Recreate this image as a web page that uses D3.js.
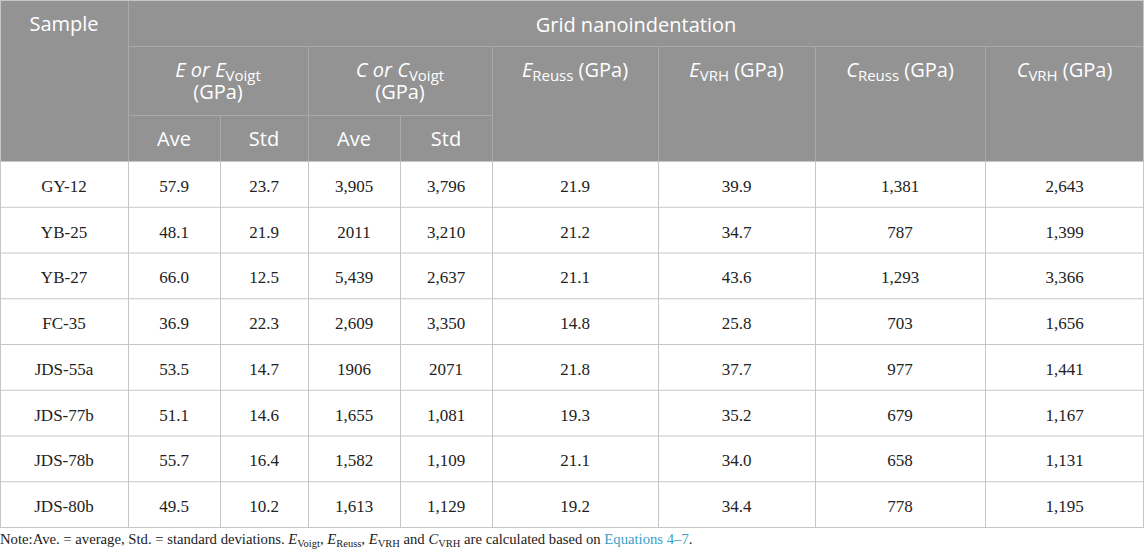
<!DOCTYPE html>
<html>
<head>
<meta charset="utf-8">
<script src="https://cdn.jsdelivr.net/npm/d3@7"></script>
<style>
  html, body { margin: 0; padding: 0; background: #fff; }
  svg { display: block; }
</style>
</head>
<body>
<div id="chart"></div>
<script>
const width = 1145;
const height = 556;

// table data
const samples = ["GY-12", "YB-25", "YB-27", "FC-35", "JDS-55a", "JDS-77b", "JDS-78b", "JDS-80b"];
const eAve   = ["57.9", "48.1", "66.0", "36.9", "53.5", "51.1", "55.7", "49.5"];
const eStd   = ["23.7", "21.9", "12.5", "22.3", "14.7", "14.6", "16.4", "10.2"];
const cAve   = ["3,905", "2011", "5,439", "2,609", "1906", "1,655", "1,582", "1,613"];
const cStd   = ["3,796", "3,210", "2,637", "3,350", "2071", "1,081", "1,109", "1,129"];
const eReuss = ["21.9", "21.2", "21.1", "14.8", "21.8", "19.3", "21.1", "19.2"];
const eVRH   = ["39.9", "34.7", "43.6", "25.8", "37.7", "35.2", "34.0", "34.4"];
const cReuss = ["1,381", "787", "1,293", "703", "977", "679", "658", "778"];
const cVRH   = ["2,643", "1,399", "3,366", "1,656", "1,441", "1,167", "1,131", "1,195"];

const columns = [samples, eAve, eStd, cAve, cStd, eReuss, eVRH, cReuss, cVRH];
const colEdges = [0, 128, 220, 308, 400, 492, 658, 815, 985, 1144];

const headFont = "'Open Sans', 'Noto Sans', sans-serif";
const bodyFont = "'Liberation Serif', 'DejaVu Serif', serif";

const svg = d3.select("#chart")
    .append("svg")
        .attr("width", width)
        .attr("height", height);

const headTop = 0, headBottom = 161, bodyBottom = 527;

const yScale = d3.scaleBand()
    .domain(samples)
    .range([headBottom, bodyBottom]);

const colMid = i => (colEdges[i] + colEdges[i + 1]) / 2;

// header background
svg.append("rect")
    .attr("x", 0).attr("y", headTop)
    .attr("width", colEdges[9]).attr("height", headBottom)
    .attr("fill", "#939393");

// body rows
const rows = svg.append("g").selectAll("g")
    .data(samples)
    .join("g")
        .attr("transform", d => "translate(0," + yScale(d) + ")");

rows.append("line")
    .attr("x1", 0).attr("x2", colEdges[9])
    .attr("y1", yScale.bandwidth() + 0.5).attr("y2", yScale.bandwidth() + 0.5)
    .attr("stroke", "#c6c6c6");

columns.forEach((col, ci) => {
    rows.append("text")
        .attr("x", colMid(ci))
        .attr("y", yScale.bandwidth() / 2 + 8)
        .attr("text-anchor", "middle")
        .attr("font-family", bodyFont)
        .attr("font-size", 17)
        .attr("fill", "#222")
        .text((d, i) => col[i]);
});

// grid lines
const vline = (x, y1, y2, c) => svg.append("line")
    .attr("x1", x + 0.5).attr("x2", x + 0.5)
    .attr("y1", y1).attr("y2", y2)
    .attr("stroke", c);
const hline = (y, x1, x2, c) => svg.append("line")
    .attr("x1", x1).attr("x2", x2)
    .attr("y1", y + 0.5).attr("y2", y + 0.5)
    .attr("stroke", c);

// header lines
hline(46, 128, 1144, "#a9a9a9");
hline(115, 128, 492, "#a9a9a9");
vline(128, 0, headBottom, "#a9a9a9");
[220, 400].forEach(x => vline(x, 115, headBottom, "#a9a9a9"));
[308, 492, 658, 815, 985].forEach(x => vline(x, 46, headBottom, "#a9a9a9"));

// body lines
[128, 220, 308, 400, 492, 658, 815, 985].forEach(x => vline(x, headBottom, bodyBottom, "#c6c6c6"));
vline(0, 0, bodyBottom, "#c6c6c6");
vline(1143, 0, bodyBottom, "#c6c6c6");
hline(0, 0, 1144, "#c6c6c6");
hline(headBottom, 0, 1144, "#c6c6c6");

// header text helper: parts = [[text, italic, sub]]
function headText(x, y, parts) {
    const t = svg.append("text")
        .attr("x", x).attr("y", y)
        .attr("text-anchor", "middle")
        .attr("font-family", headFont)
        .attr("font-size", 20)
        .attr("fill", "#fff");
    let shifted = false;
    parts.forEach(p => {
        const s = t.append("tspan").text(p[0]);
        if (p[1]) s.attr("font-style", "italic");
        if (p[2]) {
            s.attr("font-size", 15).attr("dy", 4);
            shifted = true;
        } else if (shifted) {
            s.attr("dy", -4);
            shifted = false;
        }
    });
    return t;
}

headText(colMid(0), 31, [["Sample"]]);
headText((colEdges[1] + colEdges[9]) / 2, 32, [["Grid nanoindentation"]]);

headText(218, 77, [["E or E", true], ["Voigt", false, true]]);
headText(218, 99, [["(GPa)"]]);
headText(400, 77, [["C or C", true], ["Voigt", false, true]]);
headText(400, 99, [["(GPa)"]]);

headText(colMid(5), 77, [["E", true], ["Reuss", false, true], [" (GPa)"]]);
headText(colMid(6), 77, [["E", true], ["VRH", false, true], [" (GPa)"]]);
headText(colMid(7), 77, [["C", true], ["Reuss", false, true], [" (GPa)"]]);
headText(colMid(8), 77, [["C", true], ["VRH", false, true], [" (GPa)"]]);

const subLabels = ["Ave", "Std", "Ave", "Std"];
subLabels.forEach((s, i) => headText(colMid(i + 1), 146, [[s]]));

// footnote
const note = svg.append("text")
    .attr("x", 0).attr("y", 544)
    .attr("font-family", bodyFont)
    .attr("font-size", 14.7)
    .attr("fill", "#222");

const noteParts = [
    ["Note:Ave. = average, Std. = standard deviations. "],
    ["E", "i"], ["Voigt", "s"], [", "],
    ["E", "i"], ["Reuss", "s"], [", "],
    ["E", "i"], ["VRH", "s"], [" and "],
    ["C", "i"], ["VRH", "s"], [" are calculated based on "],
    ["Equations 4\u20137", "l"], ["."]
];
let down = false;
noteParts.forEach(p => {
    const s = note.append("tspan").text(p[0]);
    if (p[1] === "i") s.attr("font-style", "italic");
    if (p[1] === "l") s.attr("fill", "#3a9fc6");
    if (p[1] === "s") {
        s.attr("font-size", 10.5).attr("dy", 3);
        down = true;
    } else if (down) {
        s.attr("dy", -3);
        down = false;
    }
});
</script>
</body>
</html>
